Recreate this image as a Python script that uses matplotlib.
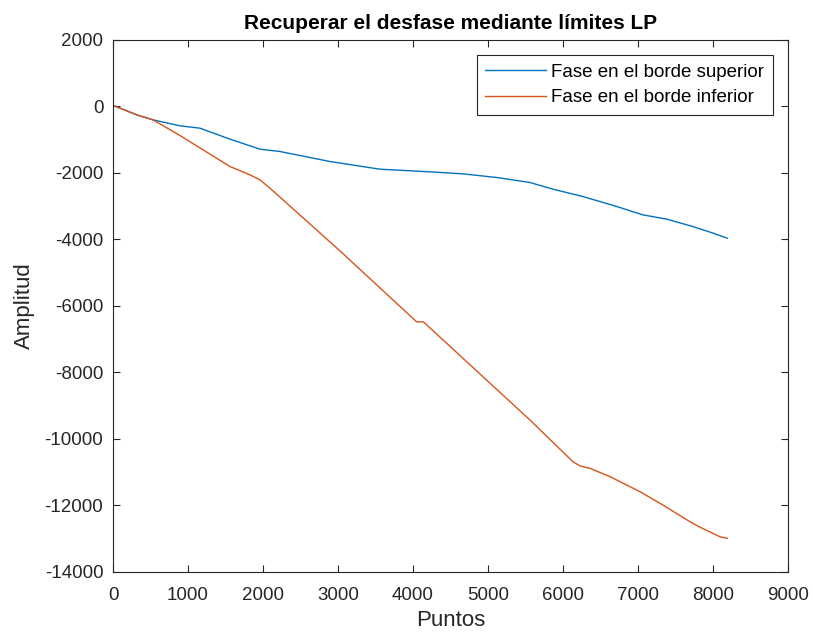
import matplotlib
matplotlib.use("Agg")
import matplotlib.pyplot as plt

# fase recuperada en cada borde
puntos_sup = [0, 316, 533, 893, 1160, 1560, 1960, 2227, 2893, 3560, 4227, 4667,
              5120, 5560, 5867, 6267, 6720, 7067, 7387, 7733, 8000, 8192]
fase_sup = [30, -256, -406, -586, -657, -987, -1288, -1358, -1659, -1890, -1970, -2030,
            -2140, -2290, -2490, -2712, -3013, -3263, -3393, -3614, -3810, -3965]

puntos_inf = [0, 316, 533, 893, 1560, 1827, 1960, 2093, 3027, 4050, 4140, 5560,
              6133, 6227, 6360, 6627, 7027, 7333, 7693, 7827, 8093, 8192]
fase_inf = [30, -256, -406, -877, -1810, -2060, -2210, -2460, -4346, -6480, -6480, -9429,
            -10682, -10812, -10882, -11133, -11585, -11985, -12487, -12650, -12940, -12990]

etiquetas = ["Fase en el borde superior", "Fase en el borde inferior"]

plt.rcParams['font.family'] = ['Liberation Sans', 'DejaVu Sans']
plt.rcParams['axes.unicode_minus'] = False
gris = '#262626'

fig = plt.figure(figsize=(8.13, 6.32), dpi=100)
ax = fig.add_axes([0.139, 0.095, 0.830, 0.842])

ax.plot(puntos_sup, fase_sup, color='#0072BD', lw=1.0, label=etiquetas[0])
ax.plot(puntos_inf, fase_inf, color='#D95319', lw=1.0, label=etiquetas[1])

ax.set_xlim(0, 9000)
ax.set_ylim(-14000, 2000)
ax.set_xticks(range(0, 9001, 1000))
ax.set_yticks(range(-14000, 2001, 2000))

ax.tick_params(direction='in', top=True, right=True, length=5, width=0.8,
               colors=gris, labelsize=13.5)
ax.tick_params(axis='x', pad=11)
ax.tick_params(axis='y', pad=7)
for s in ax.spines.values():
    s.set_color(gris)
    s.set_linewidth(0.8)

ax.set_title("Recuperar el desfase mediante límites LP", fontsize=15,
             fontweight='bold', color='black', pad=8)
ax.set_xlabel("Puntos", fontsize=16, color=gris, labelpad=4)
ax.set_ylabel("Amplitud", fontsize=16, color=gris, labelpad=7)

leg = ax.legend(loc='upper right', fontsize=13.5, frameon=True, fancybox=False,
                framealpha=1, edgecolor=gris, handlelength=3.25, handletextpad=0.27,
                borderaxespad=0.8, borderpad=0.46, labelspacing=0.45)
leg.get_frame().set_linewidth(0.8)

fig.savefig("out.png", dpi=100)
